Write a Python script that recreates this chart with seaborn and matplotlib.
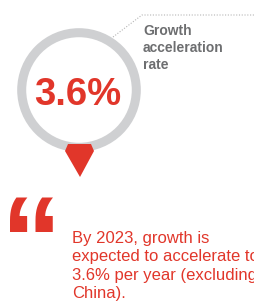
import matplotlib
matplotlib.use("Agg")
import matplotlib.pyplot as plt
import seaborn as sns
from matplotlib.patches import Circle, Polygon

# === Content ===
rate_value = 3.6
rate_label = ["Growth", "acceleration", "rate"]
quote_lines = [
    "By 2023, growth is",
    "expected to accelerate to",
    "3.6% per year (excluding",
    "China).",
]

RED = "#e1362a"
RING = "#cfd0d2"
GREY_TXT = "#6d6e70"

sns.set_theme(style="white")
plt.rcParams["font.family"] = ["Liberation Sans", "DejaVu Sans"]

fig = plt.figure(figsize=(2.54, 3.04), dpi=100)
ax = fig.add_axes([0, 0, 1, 1])
ax.set_xlim(0, 254)
ax.set_ylim(304, 0)
ax.axis("off")

# === Ring with value ===
cx, cy, r = 79, 90, 57.3
ax.add_patch(Circle((cx, cy), r, fill=False, ec=RING, lw=6.5, zorder=2))
ax.add_patch(Polygon([(cx - 11, cy + 54), (cx + 12, cy + 54), (cx + 15, cy + 61),
                      (cx + 1, cy + 87), (cx - 14, cy + 61)],
                     closed=True, fc=RED, ec="none", zorder=3))
ax.text(cx - 1, cy + 5, f"{rate_value}%", color=RED, fontsize=27.5, fontweight="bold",
        ha="center", va="center", zorder=4)

# dotted leader line
ax.plot([113, 142, 254], [37, 15, 15], color="#b5b5b5", lw=0.8, ls=(0, (1, 1.5)), zorder=1)

for i, line in enumerate(rate_label):
    ax.text(143, 35 + i * 17, line, color=GREY_TXT, fontsize=10, fontweight="bold",
            ha="left", va="baseline")

# === Quote ===
ax.text(1, 282, "\u201c", color=RED, fontsize=88, fontweight="bold", ha="left", va="baseline")
for i, line in enumerate(quote_lines):
    ax.text(72, 243 + i * 18.3, line, color=RED, fontsize=12, ha="left", va="baseline")

fig.savefig("out.png", dpi=100)
